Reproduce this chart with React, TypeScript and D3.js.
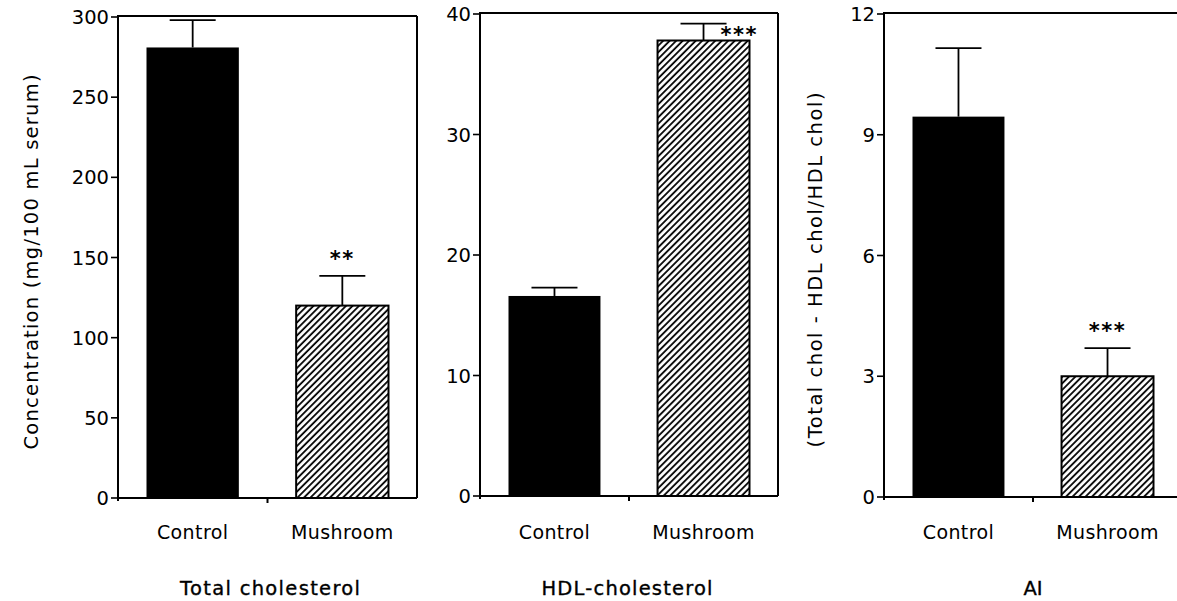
import React from "react";
import * as d3 from "d3";

// ---------- data ----------
const groups = ["Control", "Mushroom"];

const totalCholMean = [281, 120];
const totalCholSE = [17, 18.5];
const totalCholStars = ["", "**"];
const totalCholTicks = [0, 50, 100, 150, 200, 250, 300];

const hdlMean = [16.6, 37.8];
const hdlSE = [0.7, 1.4];
const hdlStars = ["", "***"];
const hdlTicks = [0, 10, 20, 30, 40];

const aiMean = [9.45, 3.0];
const aiSE = [1.7, 0.7];
const aiStars = ["", "***"];
const aiTicks = [0, 3, 6, 9, 12];

const panelTitles = ["Total cholesterol", "HDL-cholesterol", "AI"];
const yLabels = ["Concentration (mg/100 mL serum)", "", "(Total chol - HDL chol/HDL chol)"];

// ---------- layout ----------
const FONT = "'DejaVu Sans', 'Liberation Sans', Arial, sans-serif";

type PanelLayout = {
  x0: number;
  x1: number;
  yTop: number;
  yBottom: number;
  starMode: "above" | "right";
  yLabelX: number;
  yLabelY: number;
  yLabelLen: number;
  titleX: number;
  titleLen: number;
};

const layouts: PanelLayout[] = [
  { x0: 118, x1: 417, yTop: 17, yBottom: 498, starMode: "above", yLabelX: 38, yLabelY: 262, yLabelLen: 375, titleX: 270, titleLen: 180 },
  { x0: 480, x1: 778, yTop: 14, yBottom: 496, starMode: "right", yLabelX: 0, yLabelY: 0, yLabelLen: 0, titleX: 627, titleLen: 171 },
  { x0: 884, x1: 1182, yTop: 14, yBottom: 497, starMode: "above", yLabelX: 822, yLabelY: 270, yLabelLen: 355, titleX: 1033, titleLen: 0 },
];

const panelData = [
  { mean: totalCholMean, se: totalCholSE, stars: totalCholStars, ticks: totalCholTicks },
  { mean: hdlMean, se: hdlSE, stars: hdlStars, ticks: hdlTicks },
  { mean: aiMean, se: aiSE, stars: aiStars, ticks: aiTicks },
];

function Panel({ idx }: { idx: number }) {
  const L = layouts[idx];
  const D = panelData[idx];
  const yMax = D.ticks[D.ticks.length - 1];
  const y = d3.scaleLinear().domain([0, yMax]).range([L.yBottom, L.yTop]);
  const x = d3
    .scaleBand<string>()
    .domain(groups)
    .range([L.x0 + 28.5, L.x1 - 28.5])
    .paddingInner(0.383);
  const bw = x.bandwidth();
  const capHalf = 23;
  const midX = (L.x0 + L.x1) / 2;

  return (
    <g>
      {/* bars */}
      {groups.map((g, i) => {
        const bx = x(g)!;
        const top = y(D.mean[i]);
        return i === 0 ? (
          <rect key={g} x={bx} y={top} width={bw} height={L.yBottom - top} fill="#000" />
        ) : (
          <rect
            key={g}
            x={bx}
            y={top}
            width={bw}
            height={L.yBottom - top}
            fill="url(#hatch)"
            stroke="#000"
            strokeWidth={2}
          />
        );
      })}
      {/* error bars */}
      {groups.map((g, i) => {
        const cx = x(g)! + bw / 2;
        const top = y(D.mean[i]);
        const et = y(D.mean[i] + D.se[i]);
        return (
          <g key={"e" + g} stroke="#000" strokeWidth={1.8}>
            <line x1={cx} x2={cx} y1={top} y2={et} />
            <line x1={cx - capHalf} x2={cx + capHalf} y1={et} y2={et} />
          </g>
        );
      })}
      {/* stars */}
      {groups.map((g, i) => {
        if (!D.stars[i]) return null;
        const cx = x(g)! + bw / 2;
        const et = y(D.mean[i] + D.se[i]);
        if (L.starMode === "above") {
          return (
            <text key={"s" + g} x={cx} y={et - 10} textAnchor="middle" fontFamily={FONT} fontSize={21} fontWeight="bold" letterSpacing={1.5}>
              {D.stars[i]}
            </text>
          );
        }
        return (
          <text key={"s" + g} x={cx + capHalf - 6} y={et + 18} textAnchor="start" fontFamily={FONT} fontSize={21} fontWeight="bold" letterSpacing={1.5}>
            {D.stars[i]}
          </text>
        );
      })}
      {/* frame */}
      <g stroke="#000" strokeWidth={2} fill="none">
        <line x1={L.x0} x2={L.x1} y1={L.yTop - 1} y2={L.yTop - 1} />
        <line x1={L.x1} x2={L.x1} y1={L.yTop - 1} y2={L.yBottom} />
        <line x1={L.x0} x2={L.x1} y1={L.yBottom} y2={L.yBottom} />
        <line x1={L.x0} x2={L.x0} y1={L.yTop - 2} y2={L.yBottom + 3} />
        <line x1={midX} x2={midX} y1={L.yBottom} y2={L.yBottom + 5} />
      </g>
      {/* y ticks */}
      {D.ticks.map((t) => (
        <g key={"t" + t}>
          <line x1={L.x0 - 7} x2={L.x0} y1={y(t)} y2={y(t)} stroke="#000" strokeWidth={1.6} />
          <text x={L.x0 - 9} y={y(t)} dy="0.36em" textAnchor="end" fontFamily={FONT} fontSize={19.5}>
            {t}
          </text>
        </g>
      ))}
      {/* category labels */}
      {groups.map((g) => (
        <text key={"c" + g} x={x(g)! + bw / 2} y={539} textAnchor="middle" fontFamily={FONT} fontSize={19} letterSpacing={0.4}>
          {g}
        </text>
      ))}
      {/* title */}
      <text
        x={L.titleX}
        y={595}
        textAnchor="middle"
        fontFamily={FONT}
        fontSize={19.5}
        stroke="#000"
        strokeWidth={0.35}
        textLength={L.titleLen || undefined}
        lengthAdjust="spacing"
      >
        {panelTitles[idx]}
      </text>
      {/* y label */}
      {yLabels[idx] ? (
        <text
          transform={`translate(${L.yLabelX},${L.yLabelY}) rotate(-90)`}
          textAnchor="middle"
          fontFamily={FONT}
          fontSize={19.5}
          textLength={L.yLabelLen}
          lengthAdjust="spacing"
        >
          {yLabels[idx]}
        </text>
      ) : null}
    </g>
  );
}

export default function App() {
  return (
    <svg
      width={1177}
      height={601}
      viewBox="0 0 1177 601"
      style={{ position: "absolute", left: 0, top: 0, background: "#fff" }}
    >
      <defs>
        <pattern id="hatch" patternUnits="userSpaceOnUse" width={4.6} height={10} patternTransform="rotate(45)">
          <rect width={4.6} height={10} fill="#fff" />
          <line x1={1} x2={1} y1={0} y2={10} stroke="#000" strokeWidth={1.8} />
        </pattern>
      </defs>
      <rect x={0} y={0} width={1177} height={601} fill="#fff" />
      {layouts.map((_, i) => (
        <Panel key={i} idx={i} />
      ))}
    </svg>
  );
}
